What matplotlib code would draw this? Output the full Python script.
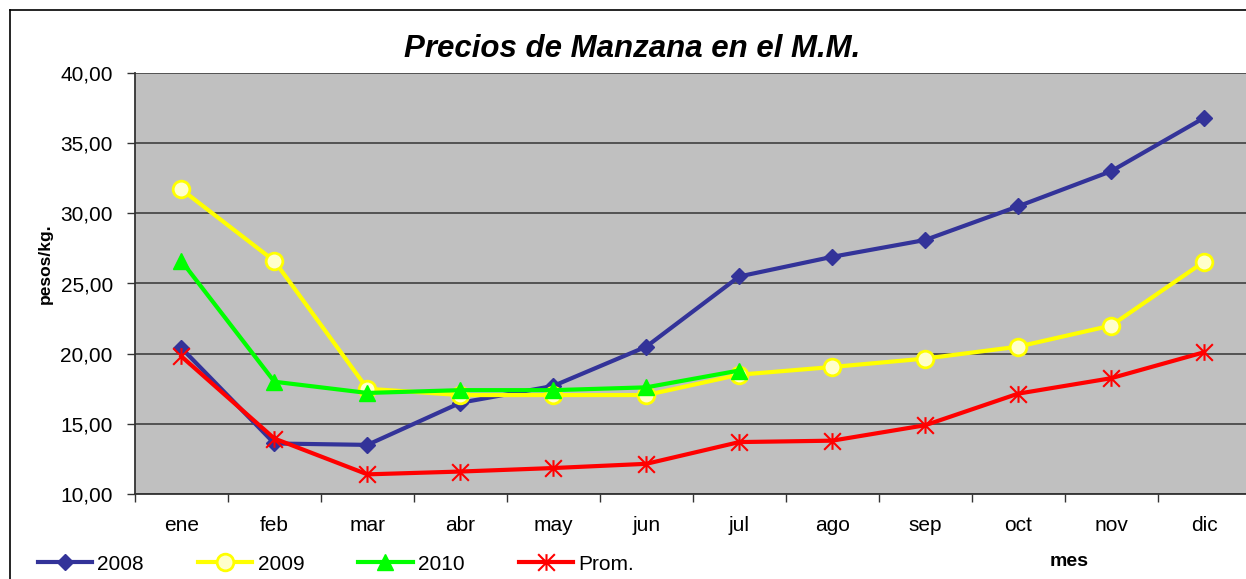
import matplotlib
matplotlib.use("Agg")
import matplotlib.pyplot as plt
from matplotlib.path import Path
from matplotlib.lines import Line2D

plt.rcParams['font.family'] = ['Liberation Sans', 'DejaVu Sans']

months = ["ene", "feb", "mar", "abr", "may", "jun", "jul", "ago", "sep", "oct", "nov", "dic"]
s2008 = [20.4, 13.6, 13.5, 16.5, 17.7, 20.5, 25.5, 26.9, 28.1, 30.5, 33.0, 36.8]
s2009 = [31.7, 26.6, 17.5, 17.05, 17.05, 17.05, 18.5, 19.05, 19.65, 20.5, 22.0, 26.55]
s2010 = [26.6, 18.0, 17.2, 17.4, 17.4, 17.6, 18.8]
sprom = [19.8, 13.95, 11.4, 11.6, 11.85, 12.15, 13.7, 13.8, 14.9, 17.15, 18.25, 20.1]
yticks = [10, 15, 20, 25, 30, 35, 40]

W, H = 1246, 579
fig = plt.figure(figsize=(W / 100, H / 100), dpi=100)
left, right, top, bottom = 135, 1250.5, 73, 494
ax = fig.add_axes([left / W, 1 - bottom / H, (right - left) / W, (bottom - top) / H])
ax.set_facecolor('#C0C0C0')

x = list(range(len(months)))
star = Path([(0, -1), (0, 1), (-1, -1), (1, 1), (-1, 1), (1, -1)],
            [Path.MOVETO, Path.LINETO, Path.MOVETO, Path.LINETO, Path.MOVETO, Path.LINETO])

ax.plot(x, s2008, color='#333399', lw=3, marker='D', ms=8, mfc='#333399', mec='#333399', label='2008', zorder=3)
ax.plot(x, s2009, color='#FFFF00', lw=3, marker='o', ms=12, mfc='#FFFFCC', mec='#FFFF00', mew=2, label='2009', zorder=4)
ax.plot(x[:len(s2010)], s2010, color='#00FF00', lw=3, marker='^', ms=12, mfc='#00FF00', mec='#00FF00', label='2010', zorder=5)
ax.plot(x, sprom, color='#FF0000', lw=3, marker=star, ms=12, mfc='none', mec='#FF0000', mew=1.5, label='Prom.', zorder=3)

ax.set_xlim(-0.5, len(months) - 0.5)
ax.set_ylim(10, 40)
ax.set_yticks(yticks)
ax.set_yticklabels([f"{v:.2f}".replace('.', ',') for v in yticks], fontsize=15)
ax.set_xticks([i - 0.5 for i in range(len(months) + 1)])
ax.set_xticklabels([])
ax.set_xticks(x, minor=True)
ax.set_xticklabels(months, minor=True, fontsize=15)
ax.tick_params(axis='x', which='minor', length=0, pad=16)
ax.tick_params(axis='x', which='major', length=6, width=1, color='#333333', direction='out')
ax.tick_params(axis='y', length=6, width=1, color='#333333', direction='out', pad=10)
ax.yaxis.grid(True, color='#4a4a4a', lw=1.3)
ax.set_axisbelow(True)
for s in ['top', 'right']:
    ax.spines[s].set_visible(False)
for s in ['left', 'bottom']:
    ax.spines[s].set_color('#333333')
    ax.spines[s].set_linewidth(1.3)

ax.set_ylabel('pesos/kg.', fontsize=12.5, fontweight='bold')
ax.yaxis.set_label_coords(-(135 - 45) / (right - left), (494 - 264) / (bottom - top))
ax.yaxis.label.set_va('center')

fig.text(632 / W, 1 - 49 / H, 'Precios de Manzana en el M.M.', fontsize=22.5,
         fontweight='bold', fontstyle='italic', ha='center', va='center')
fig.text(1069 / W, 1 - 562 / H, 'mes', fontsize=14, fontweight='bold', ha='center', va='center')

leg = ax.legend(loc='center left', bbox_to_anchor=(38 / W, 1 - 564 / H), bbox_transform=fig.transFigure,
                ncol=4, frameon=False, fontsize=15, handlelength=2.6, handletextpad=0.25,
                columnspacing=2.6, borderpad=0, borderaxespad=0)

fig.add_artist(Line2D([9.5 / W, 9.5 / W], [0, 1 - 10 / H], color='black', lw=1.2))
fig.add_artist(Line2D([9.5 / W, 1], [1 - 10 / H, 1 - 10 / H], color='black', lw=1.2))

fig.savefig('out.png', dpi=100)
